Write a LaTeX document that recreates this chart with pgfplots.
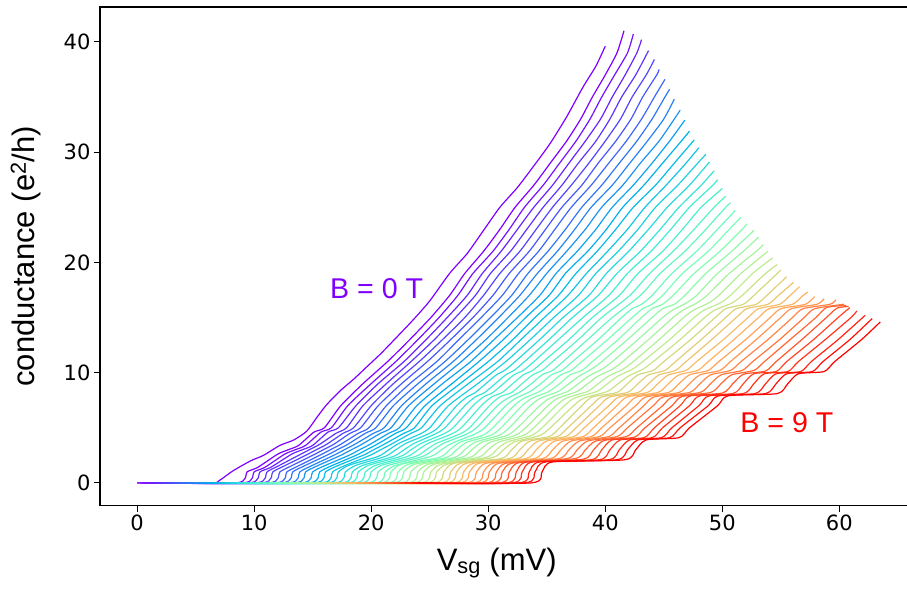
\documentclass[border=0pt]{standalone}
\usepackage{pgfplots}
\pgfplotsset{compat=1.18}
\usepackage{fontspec}
\setmainfont{Liberation Sans}
\newfontfamily\dejavu{DejaVu Sans}
\definecolor{bpurple}{rgb}{0.5,0,1}
\definecolor{bred}{rgb}{1,0,0}
\begin{document}
\begin{tikzpicture}
\begin{axis}[
  at={(0,0)}, anchor=south west,
  width=817.4pt, height=498.6pt, scale only axis,
  xmin=-3.17, xmax=66.67, ymin=-2.06, ymax=43.16,
  xtick={0,10,20,30,40,50,60}, ytick={0,10,20,30,40},
  tick pos=left, tick align=outside,
  major tick length=6pt,
  every tick/.append style={black, line width=1.1pt},
  axis line style={line width=1.1pt},
  ticklabel style={font=\dejavu\fontsize{21}{21}\selectfont},
  /pgf/number format/assume math mode=true,
  xlabel={V\textsubscript{sg} (mV)},
  ylabel={conductance (e\textsuperscript{2}/h)},
  label style={font=\fontsize{31}{31}\selectfont},
  xlabel style={at={(axis description cs:0.5,0)}, anchor=base, yshift=-64.4pt, xshift=-12pt},
  ylabel style={at={(axis description cs:0,0.5)}, anchor=base, yshift=65pt},
  colormap={mplrainbow}{rgb=(0.5,0,1) rgb=(0.25,0.383,0.981) rgb=(0,0.707,0.924) rgb=(0.25,0.924,0.831) rgb=(0.5,1,0.707) rgb=(0.75,0.924,0.556) rgb=(1,0.707,0.383) rgb=(1,0.383,0.195) rgb=(1,0,0)},
  every axis plot/.append style={line width=1.2pt, smooth, tension=0.4, line join=round},
]
% first (B = 0 T) curve
\addplot[color of colormap={0 of mplrainbow}] coordinates {(0,0)(6.3,0)(7.0,0.2)(8.2,1.1)(9.7,2.0)(10.8,2.5)(12.2,3.4)(13.4,3.9)(14.5,4.7)(15.4,6.0)(16.2,7.1)(17.4,8.4)(18.5,9.4)(19.6,10.5)(20.8,11.7)(21.9,12.9)(23.6,14.8)(25.0,16.5)(26.7,19.0)(28.2,20.8)(29.6,22.9)(31.0,25.0)(32.5,26.8)(34.0,28.9)(35.3,30.8)(36.7,33.2)(38.1,35.9)(39.2,37.8)(40.0,39.6)};
\addplot[color of colormap={0 of mplrainbow}] coordinates {(0,0)(8.5,0)(9.4,1)(10.3,1.4)(12.0,2.6)(12.9,3)(13.8,3.4)(15.1,4.6)(16.0,5)(17.4,7)(19.3,9)(21.4,11)(23.3,13)(25.1,15)(26.7,17)(28.0,19)(29.6,21)(31.0,23)(32.3,25)(33.9,27)(35.3,29)(36.7,31)(37.9,33)(38.9,35)(40.0,37)(41.0,39)(41.6,41)};
\addplot[color of colormap={22.2 of mplrainbow}] coordinates {(0.5,0)(9.1,0)(10.0,1)(10.9,1.4)(12.6,2.6)(13.5,3)(14.4,3.4)(15.7,4.6)(16.6,5)(18.0,7)(20.0,9)(22.1,11)(24.0,13)(25.8,15)(27.4,17)(28.7,19)(30.4,21)(31.8,23)(33.1,25)(34.7,27)(36.1,29)(37.5,31)(38.7,33)(39.7,35)(40.8,37)(41.9,39)(42.4,40.7)};
\addplot[color of colormap={44.4 of mplrainbow}] coordinates {(1.1,0)(9.6,0)(10.5,1)(11.4,1.4)(13.2,2.6)(14.1,3)(15.0,3.4)(16.3,4.6)(17.2,5)(18.7,7)(20.6,9)(22.8,11)(24.7,13)(26.5,15)(28.2,17)(29.5,19)(31.1,21)(32.5,23)(33.9,25)(35.5,27)(36.9,29)(38.3,31)(39.6,33)(40.6,35)(41.7,37)(42.7,39)(43.1,40.2)};
\addplot[color of colormap={66.7 of mplrainbow}] coordinates {(1.6,0)(10.2,0)(11.1,1)(12.0,1.5)(13.8,2.5)(14.7,3)(15.6,3.5)(17.0,4.5)(17.9,5)(19.3,7)(21.3,9)(23.4,11)(25.4,13)(27.2,15)(28.9,17)(30.2,19)(31.9,21)(33.3,23)(34.7,25)(36.3,27)(37.7,29)(39.2,31)(40.4,33)(41.4,35)(42.6,37)(43.6,39)(43.7,39.2)};
\addplot[color of colormap={88.9 of mplrainbow}] coordinates {(2.1,0)(10.7,0)(11.6,1)(12.5,1.5)(14.4,2.5)(15.3,3)(16.2,3.5)(17.6,4.5)(18.5,5)(20.0,7)(21.9,9)(24.1,11)(26.1,13)(28.0,15)(29.6,17)(31.0,19)(32.7,21)(34.1,23)(35.5,25)(37.1,27)(38.6,29)(40.0,31)(41.3,33)(42.3,35)(43.5,37)(44.2,38.4)};
\addplot[color of colormap={111.1 of mplrainbow}] coordinates {(2.7,0)(11.3,0)(12.2,1)(13.1,1.5)(15.0,2.5)(15.9,3)(16.8,3.5)(18.2,4.5)(19.1,5)(20.6,7)(22.6,9)(24.8,11)(26.8,13)(28.7,15)(30.4,17)(31.8,19)(33.5,21)(34.9,23)(36.3,25)(38.0,27)(39.4,29)(40.9,31)(42.2,33)(43.2,35)(44.4,37)(44.6,37.5)};
\addplot[color of colormap={133.3 of mplrainbow}] coordinates {(3.2,0)(11.9,0)(12.8,1)(13.7,1.5)(15.6,2.5)(16.5,3)(17.4,3.5)(18.9,4.5)(19.8,5)(21.3,7)(23.3,9)(25.6,11)(27.5,13)(29.4,15)(31.2,17)(32.6,19)(34.3,21)(35.7,23)(37.1,25)(38.8,27)(40.3,29)(41.8,31)(43.1,33)(44.2,35)(45.1,36.6)};
\addplot[color of colormap={155.6 of mplrainbow}] coordinates {(3.7,0)(12.4,0)(13.3,1)(14.2,1.5)(16.2,2.5)(17.1,3)(18.0,3.5)(19.5,4.5)(20.4,5)(21.9,7)(24.0,9)(26.3,11)(28.3,13)(30.2,15)(32.0,17)(33.4,19)(35.1,21)(36.6,23)(38.0,25)(39.7,27)(41.2,29)(42.7,31)(44.0,33)(45.1,35)(45.5,35.7)};
\addplot[color of colormap={177.8 of mplrainbow}] coordinates {(4.3,0)(13.0,0)(13.9,1)(14.8,1.5)(16.8,2.5)(17.7,3)(18.6,3.5)(20.2,4.5)(21.1,5)(22.6,7)(24.7,9)(27.0,11)(29.0,13)(30.9,15)(32.7,17)(34.2,19)(35.9,21)(37.4,23)(38.8,25)(40.6,27)(42.1,29)(43.6,31)(45.0,33)(45.9,34.8)};
\addplot[color of colormap={200 of mplrainbow}] coordinates {(4.8,0)(13.5,0)(14.4,1)(15.3,1.5)(17.4,2.5)(18.3,3)(19.2,3.5)(20.8,4.5)(21.7,5)(23.2,7)(25.4,9)(27.7,11)(29.8,13)(31.7,15)(33.5,17)(35.0,19)(36.7,21)(38.3,23)(39.7,25)(41.5,27)(43.0,29)(44.6,31)(45.9,33)(46.4,33.8)};
\addplot[color of colormap={222.2 of mplrainbow}] coordinates {(5.3,0)(14.1,0)(15.0,1)(15.9,1.5)(18.1,2.5)(19.0,3)(19.9,3.5)(21.5,4.5)(22.4,5)(23.9,7)(26.1,9)(28.5,11)(30.5,13)(32.5,15)(34.4,17)(35.8,19)(37.6,21)(39.2,23)(40.6,25)(42.4,27)(44.0,29)(45.5,31)(46.8,32.9)};
\addplot[color of colormap={244.4 of mplrainbow}] coordinates {(5.9,0)(14.7,0)(15.6,1)(16.5,1.5)(18.7,2.5)(19.6,3)(20.5,3.5)(22.1,4.5)(23.0,5)(24.6,7)(26.9,9)(29.2,11)(31.3,13)(33.2,15)(35.2,17)(36.6,19)(38.5,21)(40.1,23)(41.5,25)(43.3,27)(44.9,29)(46.5,31)(47.2,31.9)};
\addplot[color of colormap={266.7 of mplrainbow}] coordinates {(6.4,0)(15.2,0)(16.1,1)(17.0,1.5)(19.3,2.5)(20.2,3)(21.1,3.5)(22.8,4.5)(23.7,5)(25.2,7)(27.6,9)(30.0,11)(32.1,13)(34.0,15)(36.0,17)(37.5,19)(39.3,21)(40.9,23)(42.4,25)(44.3,27)(45.9,29)(47.6,31.1)};
\addplot[color of colormap={288.9 of mplrainbow}] coordinates {(6.9,0)(15.8,0)(16.7,1)(17.6,1.5)(19.9,2.5)(20.8,3)(21.7,3.5)(23.4,4.5)(24.3,5)(25.9,7)(28.3,9)(30.8,11)(32.8,13)(34.8,15)(36.8,17)(38.4,19)(40.2,21)(41.9,23)(43.4,25)(45.2,27)(46.9,29)(48.0,30.4)};
\addplot[color of colormap={311.1 of mplrainbow}] coordinates {(7.5,0)(16.3,0)(17.2,1)(18.1,1.6)(20.6,2.4)(21.5,3)(22.4,3.6)(24.1,4.4)(25.0,5)(26.6,7)(29.1,9)(31.5,11)(33.6,13)(35.6,15)(37.7,17)(39.2,19)(41.1,21)(42.8,23)(44.3,25)(46.2,27)(47.9,29)(48.6,29.8)};
\addplot[color of colormap={333.3 of mplrainbow}] coordinates {(8.0,0)(16.9,0)(17.8,1)(18.7,1.6)(21.2,2.4)(22.1,3)(23.0,3.6)(24.8,4.4)(25.7,5)(27.3,7)(28.2,7.8)(28.9,8.2)(29.8,9)(30.7,9.8)(31.4,10.2)(32.3,11)(34.4,13)(36.4,15)(38.6,17)(40.1,19)(42.0,21)(43.7,23)(45.3,25)(47.2,27)(48.9,29.1)};
\addplot[color of colormap={355.6 of mplrainbow}] coordinates {(8.5,0)(17.5,0)(18.4,1)(19.3,1.6)(21.9,2.4)(22.8,3)(23.7,3.6)(25.4,4.4)(26.3,5)(28.0,7)(28.9,7.8)(29.7,8.2)(30.6,9)(31.5,9.8)(32.2,10.2)(33.1,11)(35.2,13)(37.2,15)(39.4,17)(41.0,19)(43.0,21)(44.7,23)(46.3,25)(48.2,27)(49.3,28.3)};
\addplot[color of colormap={377.8 of mplrainbow}] coordinates {(9.1,0)(18.0,0)(18.9,1)(19.8,1.6)(22.5,2.4)(23.4,3)(24.3,3.6)(26.1,4.4)(27.0,5)(28.7,7)(29.6,7.8)(30.4,8.2)(31.3,9)(32.2,9.8)(33.0,10.2)(33.9,11)(36.0,13)(38.1,15)(40.3,17)(41.9,19)(43.9,21)(45.6,23)(47.2,25)(49.2,27)(49.6,27.5)};
\addplot[color of colormap={400 of mplrainbow}] coordinates {(9.6,0)(18.6,0)(19.5,1)(20.4,1.6)(23.1,2.4)(24.0,3)(24.9,3.6)(26.8,4.4)(27.7,5)(29.4,7)(30.3,7.8)(31.2,8.2)(32.1,9)(33.0,9.8)(33.8,10.2)(34.7,11)(36.9,13)(38.9,15)(41.2,17)(42.8,19)(44.9,21)(46.6,23)(48.2,25)(50.0,26.7)};
\addplot[color of colormap={422.2 of mplrainbow}] coordinates {(10.1,0)(19.1,0)(20.0,1)(20.9,1.6)(23.8,2.4)(24.7,3)(25.6,3.6)(27.5,4.4)(28.4,5)(30.1,7)(31.0,7.8)(32.0,8.2)(32.9,9)(33.8,9.8)(34.6,10.2)(35.5,11)(37.7,13)(39.7,15)(42.1,17)(43.8,19)(45.8,21)(47.6,23)(49.3,25)(50.3,26.0)};
\addplot[color of colormap={444.4 of mplrainbow}] coordinates {(10.7,0)(19.7,0)(20.6,1)(21.5,1.6)(24.4,2.4)(25.3,3)(26.2,3.6)(28.1,4.4)(29.0,5)(30.8,7)(31.7,7.7)(32.8,8.3)(33.7,9)(34.6,9.8)(35.5,10.2)(36.4,11)(38.5,13)(40.6,15)(43.0,17)(44.7,19)(46.8,21)(48.6,23)(50.3,25)(50.7,25.4)};
\addplot[color of colormap={466.7 of mplrainbow}] coordinates {(11.2,0)(20.3,0)(21.2,1)(22.1,1.6)(25.1,2.4)(26.0,3)(26.9,3.6)(28.8,4.4)(29.7,5)(31.5,7)(32.4,7.7)(33.6,8.3)(34.5,9)(35.4,9.8)(36.3,10.2)(37.2,11)(39.4,13)(41.4,15)(42.3,15.8)(43.1,16.2)(44.0,17)(45.7,19)(47.8,21)(49.6,23)(51.1,24.7)};
\addplot[color of colormap={488.9 of mplrainbow}] coordinates {(11.7,0)(20.8,0)(21.7,1)(22.6,1.7)(25.8,2.3)(26.7,3)(27.6,3.7)(29.5,4.3)(30.4,5)(32.2,7)(33.1,7.7)(34.4,8.3)(35.3,9)(36.2,9.8)(37.1,10.2)(38.0,11)(40.2,13)(42.3,15)(43.2,15.8)(44.0,16.2)(44.9,17)(46.6,19)(48.8,21)(50.6,23)(51.6,24.1)};
\addplot[color of colormap={511.1 of mplrainbow}] coordinates {(12.3,0)(21.4,0)(22.3,1)(23.2,1.7)(26.4,2.3)(27.3,3)(28.2,3.7)(30.2,4.3)(31.1,5)(32.9,7)(33.8,7.7)(35.2,8.3)(36.1,9)(37.0,9.8)(38.0,10.2)(38.9,11)(41.1,13)(43.1,15)(44.0,15.8)(44.9,16.2)(45.8,17)(47.6,19)(49.8,21)(51.7,23)(52.1,23.5)};
\addplot[color of colormap={533.3 of mplrainbow}] coordinates {(12.8,0)(21.9,0)(22.8,1)(23.7,1.7)(27.1,2.3)(28.0,3)(28.9,3.7)(30.9,4.3)(31.8,5)(33.6,7)(34.5,7.7)(36.0,8.3)(36.9,9)(37.8,9.7)(38.8,10.3)(39.7,11)(41.9,13)(44.0,15)(44.9,15.8)(45.9,16.2)(46.8,17)(48.6,19)(50.8,21)(52.7,22.9)};
\addplot[color of colormap={555.6 of mplrainbow}] coordinates {(13.3,0)(22.5,0)(23.4,1)(24.3,1.7)(27.7,2.3)(28.6,3)(29.5,3.7)(31.6,4.3)(32.5,5)(34.4,7)(35.3,7.7)(36.8,8.3)(37.7,9)(38.6,9.7)(39.7,10.3)(40.6,11)(42.8,13)(44.9,15)(45.8,15.7)(46.9,16.3)(47.8,17)(49.6,19)(51.8,21)(53.1,22.3)};
\addplot[color of colormap={577.8 of mplrainbow}] coordinates {(13.9,0)(23.1,0)(24.0,1)(24.9,1.7)(28.4,2.3)(29.3,3)(30.2,3.7)(32.3,4.3)(33.2,5)(35.1,7)(36.0,7.7)(37.6,8.3)(38.5,9)(39.4,9.7)(40.6,10.3)(41.5,11)(43.7,13)(45.8,15)(46.7,15.7)(47.8,16.3)(48.7,17)(50.6,19)(52.9,21)(53.5,21.6)};
\addplot[color of colormap={600 of mplrainbow}] coordinates {(14.4,0)(23.6,0)(24.5,1)(25.4,1.7)(29.1,2.3)(30.0,3)(30.9,3.7)(33.0,4.3)(33.9,5)(35.8,7)(36.7,7.7)(38.5,8.3)(39.4,9)(40.3,9.7)(41.5,10.3)(42.4,11)(44.6,13)(46.7,15)(47.6,15.7)(48.8,16.3)(49.7,17)(51.6,19)(53.9,21)};
\addplot[color of colormap={622.2 of mplrainbow}] coordinates {(14.9,0)(24.2,0)(25.1,1)(26.0,1.7)(29.8,2.3)(30.7,3)(31.6,3.7)(33.7,4.3)(34.6,5)(36.5,7)(37.4,7.7)(39.3,8.3)(40.2,9)(41.1,9.7)(42.3,10.3)(43.2,11)(45.5,13)(47.6,15)(48.5,15.7)(49.8,16.3)(50.7,17)(52.6,19)(54.3,20.4)};
\addplot[color of colormap={644.4 of mplrainbow}] coordinates {(15.5,0)(24.7,0)(25.6,1)(26.5,1.7)(30.4,2.3)(31.3,3)(32.2,3.7)(34.4,4.3)(35.3,5)(37.3,7)(38.2,7.7)(40.2,8.3)(41.1,9)(42.0,9.7)(43.2,10.3)(44.1,11)(46.4,13)(48.5,15)(49.4,15.7)(50.8,16.3)(51.7,17)(53.7,19)(54.7,19.8)};
\addplot[color of colormap={666.7 of mplrainbow}] coordinates {(16.0,0)(25.3,0)(26.2,1)(27.1,1.8)(31.1,2.2)(32.0,3)(32.9,3.8)(35.2,4.2)(36.1,5)(38.0,7)(38.9,7.8)(41.0,8.2)(41.9,9)(42.8,9.8)(44.1,10.2)(45.0,11)(47.3,13)(49.4,15)(50.3,15.8)(51.8,16.2)(52.7,17)(54.7,19)(55.0,19.3)};
\addplot[color of colormap={688.9 of mplrainbow}] coordinates {(16.5,0)(25.9,0)(26.8,1)(27.7,1.8)(31.8,2.2)(32.7,3)(33.6,3.8)(35.9,4.2)(36.8,5)(38.8,7)(39.7,7.8)(41.9,8.2)(42.8,9)(43.7,9.8)(45.1,10.2)(46.0,11)(48.2,13)(50.3,15)(51.2,15.8)(52.9,16.2)(53.8,17)(55.5,18.7)};
\addplot[color of colormap={711.1 of mplrainbow}] coordinates {(17.1,0)(26.4,0)(27.3,1)(28.2,1.8)(32.5,2.2)(33.4,3)(34.3,3.8)(36.6,4.2)(37.5,5)(39.5,7)(40.4,7.8)(42.8,8.2)(43.7,9)(44.6,9.8)(46.0,10.2)(46.9,11)(49.1,13)(51.2,15)(52.1,15.8)(53.9,16.2)(54.8,17)(56.1,18.2)};
\addplot[color of colormap={733.3 of mplrainbow}] coordinates {(17.6,0)(27.0,0)(27.9,1)(28.8,1.8)(33.2,2.2)(34.1,3)(35.0,3.8)(37.3,4.2)(38.2,5)(40.3,7)(41.2,7.8)(43.6,8.2)(44.5,9)(45.4,9.8)(46.9,10.2)(47.8,11)(50.1,13)(52.2,15)(53.1,15.8)(54.9,16.2)(55.8,17)(56.6,17.8)};
\addplot[color of colormap={755.6 of mplrainbow}] coordinates {(18.1,0)(27.5,0)(28.4,1)(29.3,1.8)(33.9,2.2)(34.8,3)(35.7,3.8)(38.1,4.2)(39.0,5)(41.0,7)(41.9,7.8)(44.5,8.2)(45.4,9)(46.3,9.8)(47.9,10.2)(48.8,11)(51.0,13)(53.1,15)(54.0,15.8)(56.0,16.2)(56.9,17)(57.3,17.3)};
\addplot[color of colormap={777.8 of mplrainbow}] coordinates {(18.7,0)(28.1,0)(29.0,1)(29.9,1.8)(34.6,2.2)(35.5,3)(36.4,3.8)(38.8,4.2)(39.7,5)(41.8,7)(42.7,7.8)(45.4,8.2)(46.3,9)(47.2,9.8)(48.8,10.2)(49.7,11)(52.0,13)(54.1,15)(55.0,15.8)(57.1,16.2)(57.9,16.9)};
\addplot[color of colormap={800 of mplrainbow}] coordinates {(19.2,0)(28.7,0)(29.6,1)(30.5,1.8)(35.3,2.2)(36.2,3)(37.1,3.8)(39.5,4.2)(40.4,5)(42.6,7)(43.5,7.8)(46.3,8.2)(47.2,9)(48.1,9.8)(49.8,10.2)(50.7,11)(52.9,13)(55.0,15)(55.9,15.8)(58.1,16.2)(58.7,16.7)};
\addplot[color of colormap={822.2 of mplrainbow}] coordinates {(19.7,0)(29.2,0)(30.1,1)(31.0,1.8)(36.0,2.2)(36.9,3)(37.8,3.8)(40.3,4.2)(41.2,5)(43.3,7)(44.2,7.8)(47.2,8.2)(48.1,9)(49.0,9.8)(50.7,10.2)(51.6,11)(53.9,13)(56.0,15)(56.9,15.8)(59.2,16.2)(59.7,16.6)};
\addplot[color of colormap={844.4 of mplrainbow}] coordinates {(20.3,0)(29.8,0)(30.7,1)(31.6,1.8)(36.7,2.2)(37.6,3)(38.5,3.8)(41.0,4.2)(41.9,5)(44.1,7)(45.0,7.8)(48.1,8.2)(49.0,9)(49.9,9.8)(51.7,10.2)(52.6,11)(54.9,13)(57.0,15)(57.9,15.8)(60.4,16.2)};
\addplot[color of colormap={866.7 of mplrainbow}] coordinates {(20.8,0)(30.3,0)(31.2,1)(32.1,1.8)(37.4,2.2)(38.3,3)(39.2,3.8)(41.8,4.2)(42.7,5)(44.9,7)(45.8,7.8)(49.0,8.2)(49.9,9)(50.8,9.8)(52.7,10.2)(53.6,11)(55.8,13)(58.0,15)(58.9,15.9)(60.6,16.1)};
\addplot[color of colormap={888.9 of mplrainbow}] coordinates {(21.3,0)(30.9,0)(31.8,1)(32.7,1.85)(38.1,2.15)(39.0,3)(39.9,3.85)(42.5,4.15)(43.4,5)(45.7,7)(46.6,7.85)(50.0,8.15)(50.9,9)(51.8,9.85)(53.7,10.15)(54.6,11)(56.8,13)(58.9,15)(59.8,15.85)(60.8,16.0)};
\addplot[color of colormap={911.1 of mplrainbow}] coordinates {(21.9,0)(31.5,0)(32.4,1)(33.3,1.9)(38.8,2.1)(39.7,3)(40.6,3.9)(43.3,4.1)(44.2,5)(46.4,7)(47.3,7.9)(50.9,8.1)(51.8,9)(52.7,9.9)(54.6,10.1)(55.5,11)(57.8,13)(59.9,15)(60.9,15.9)};
\addplot[color of colormap={933.3 of mplrainbow}] coordinates {(22.4,0)(32.0,0)(32.9,1)(33.8,1.9)(39.5,2.1)(40.4,3)(41.3,3.9)(44.0,4.1)(44.9,5)(47.2,7)(48.1,7.9)(51.8,8.1)(52.7,9)(53.6,9.9)(55.6,10.1)(56.5,11)(58.8,13)(61.0,15)(61.5,15.6)};
\addplot[color of colormap={955.6 of mplrainbow}] coordinates {(22.9,0)(32.6,0)(33.5,1)(34.4,1.9)(40.3,2.1)(41.2,3)(42.1,3.9)(44.8,4.1)(45.7,5)(48.0,7)(48.9,7.9)(52.8,8.1)(53.7,9)(54.6,9.9)(56.7,10.1)(57.6,11)(59.9,13)(62.0,15)(62.2,15.2)};
\addplot[color of colormap={977.8 of mplrainbow}] coordinates {(23.5,0)(33.1,0)(34.0,1)(34.9,1.9)(41.0,2.1)(41.9,3)(42.8,3.9)(45.5,4.1)(46.4,5)(48.8,7)(49.7,7.9)(53.7,8.1)(54.6,9)(55.5,9.9)(57.7,10.1)(58.6,11)(60.9,13)(62.8,14.9)};
\addplot[color of colormap={1000 of mplrainbow}] coordinates {(24.0,0)(33.7,0)(34.6,1)(35.5,1.9)(41.7,2.1)(42.6,3)(43.5,3.9)(46.3,4.1)(47.2,5)(49.6,7)(50.5,7.9)(54.7,8.1)(55.6,9)(56.5,9.9)(58.7,10.1)(59.6,11)(61.9,13)(63.5,14.6)};
\node[anchor=base west, text=bpurple, font=\fontsize{28.6}{28.6}\selectfont] at (axis cs:16.2,16.7) {B = 0 T};
\node[anchor=base west, text=bred, font=\fontsize{28.6}{28.6}\selectfont] at (axis cs:51.25,4.6) {B = 9 T};
\end{axis}
\pgfresetboundingbox
\path[use as bounding box] (-100pt,-86.4pt) rectangle (807pt,505.6pt);
\end{tikzpicture}
\end{document}
